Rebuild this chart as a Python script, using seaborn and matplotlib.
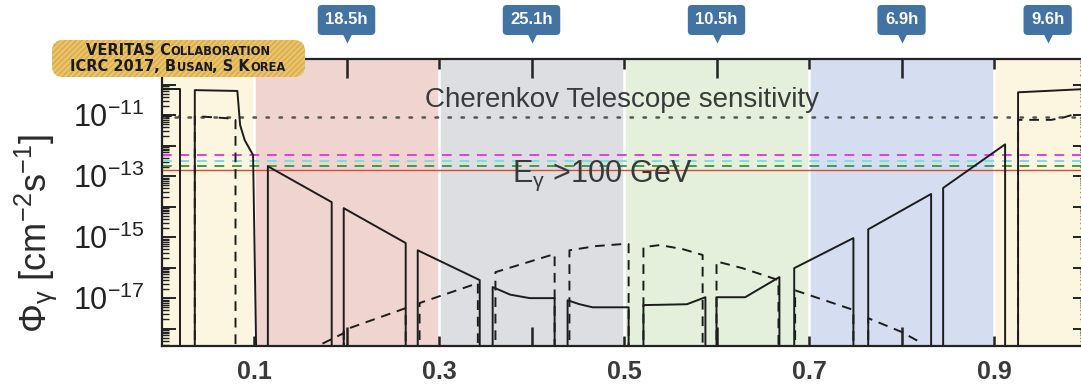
import numpy as np
import pandas as pd
import seaborn as sns
import matplotlib.pyplot as plt
from matplotlib.ticker import LogLocator, NullFormatter, FixedLocator
from matplotlib.transforms import blended_transform_factory, IdentityTransform
from matplotlib.patches import FancyBboxPatch
from matplotlib.offsetbox import TextArea, HPacker, VPacker, AnnotationBbox

sns.set_theme(style="white")
plt.rcParams["font.family"] = ["Liberation Sans", "DejaVu Sans"]
plt.rcParams["mathtext.fontset"] = "custom"
plt.rcParams["mathtext.rm"] = "Liberation Sans"
plt.rcParams["mathtext.it"] = "Liberation Sans:italic"
plt.rcParams["mathtext.bf"] = "Liberation Sans:bold"
plt.rcParams["hatch.color"] = "#D8AE4E"
plt.rcParams["hatch.linewidth"] = 1.2

FLOOR = 1e-20

# orbital phase bands
band_edges = [0.0, 0.1, 0.3, 0.5, 0.7, 0.9, 1.0]
band_colors = ["#FCF5E0", "#F0D4D0", "#DDDEE1", "#E4F0DB", "#D4DEF0", "#FCF5E0"]

# observation time per band
hours_x = [0.2, 0.4, 0.6, 0.8, 0.958]
hours_labels = ["18.5h", "25.1h", "10.5h", "6.9h", "9.6h"]

# sensitivity lines
sens_values = [9.0e-12, 5.1e-13, 3.2e-13, 2.1e-13, 1.6e-13]
sens_colors = ["#555555", "#E040E0", "#84D9E0", "#3E9E3E", "#D24A38"]

# flux model, solid curve (x = phase, y = flux)
solid_segments = [
    ([0.0, 0.020, 0.020], [7.0e-11, 7.0e-11, FLOOR]),
    ([0.036, 0.036, 0.082, 0.085, 0.090, 0.096, 0.099, 0.103],
     [FLOOR, 6.6e-11, 6.2e-11, 4.7e-12, 1.5e-12, 7.1e-13, 4.9e-13, FLOOR]),
    ([0.115, 0.115, 0.184, 0.184], [FLOOR, 2.1e-13, 1.4e-14, FLOOR]),
    ([0.197, 0.197, 0.264, 0.264], [FLOOR, 8.9e-15, 6.4e-16, FLOOR]),
    ([0.277, 0.277, 0.344, 0.344], [FLOOR, 3.7e-16, 3.9e-17, FLOOR]),
    ([0.358, 0.358, 0.377, 0.398, 0.425, 0.425],
     [FLOOR, 2.3e-17, 1.3e-17, 1.0e-17, 1.0e-17, FLOOR]),
    ([0.439, 0.439, 0.452, 0.466, 0.505, 0.505],
     [FLOOR, 8.5e-18, 6.3e-18, 5.0e-18, 5.0e-18, FLOOR]),
    ([0.521, 0.521, 0.568, 0.588, 0.588], [FLOOR, 5.9e-18, 6.3e-18, 1.07e-17, FLOOR]),
    ([0.600, 0.600, 0.631, 0.668, 0.668], [FLOOR, 1.07e-17, 1.07e-17, 4.9e-17, FLOOR]),
    ([0.684, 0.684, 0.748, 0.748], [FLOOR, 9.6e-17, 9.3e-16, FLOOR]),
    ([0.764, 0.764, 0.832, 0.832], [FLOOR, 1.8e-15, 2.6e-14, FLOOR]),
    ([0.845, 0.845, 0.912, 0.912], [FLOOR, 4.1e-14, 1.1e-12, FLOOR]),
    ([0.926, 0.926, 1.0], [FLOOR, 5.6e-11, 7.2e-11]),
]

# flux model, dashed curve
dashed_segments = [
    ([0.0, 0.020], [9.3e-12, 9.3e-12]),
    ([0.036, 0.036, 0.071, 0.077, 0.080, 0.080],
     [FLOOR, 9.3e-12, 7.9e-12, 6.9e-12, 6.9e-12, FLOOR]),
    ([0.160, 0.171, 0.197, 0.197], [1.5e-19, 2.9e-19, 7.1e-19, FLOOR]),
    ([0.197, 0.197, 0.264, 0.264], [FLOOR, 8.9e-19, 4.7e-18, FLOOR]),
    ([0.279, 0.279, 0.342, 0.342], [FLOOR, 6.9e-18, 3.1e-17, FLOOR]),
    ([0.361, 0.361, 0.425, 0.425], [FLOOR, 7.1e-17, 2.8e-16, FLOOR]),
    ([0.441, 0.441, 0.470, 0.498, 0.505, 0.505],
     [FLOOR, 3.7e-16, 5.1e-16, 5.9e-16, 5.9e-16, FLOOR]),
    ([0.521, 0.521, 0.539, 0.564, 0.585, 0.585],
     [FLOOR, 4.7e-16, 5.5e-16, 4.0e-16, 2.6e-16, FLOOR]),
    ([0.600, 0.600, 0.628, 0.667, 0.667], [FLOOR, 1.6e-16, 9.6e-17, 3.9e-17, FLOOR]),
    ([0.685, 0.685, 0.748, 0.748], [FLOOR, 1.8e-17, 4.1e-18, FLOOR]),
    ([0.764, 0.764, 0.800, 0.820], [FLOOR, 2.2e-18, 7.8e-19, 3.6e-19]),
    ([0.926, 0.926, 0.962, 0.976, 0.988], [FLOOR, 7.0e-12, 7.0e-12, 8.5e-12, 1.1e-11]),
]

rows = []
for kind, segs in [("solid", solid_segments), ("dashed", dashed_segments)]:
    for i, (xs, ys) in enumerate(segs):
        for x, y in zip(xs, ys):
            rows.append({"phase": x, "flux": y, "seg": f"{kind}{i}", "kind": kind})
df = pd.DataFrame(rows)

fig = plt.figure(figsize=(10.81, 3.90), dpi=100)
ax = fig.add_axes([0.1494, 0.1128, 0.8557, 0.7359])
ax.set_yscale("log")

for i in range(len(band_colors)):
    ax.axvspan(band_edges[i], band_edges[i + 1], color=band_colors[i], lw=0, zorder=0)
for e in band_edges[1:-1]:
    ax.axvline(e, color="white", lw=1.8, zorder=0.5)

ax.axhline(sens_values[0], color=sens_colors[0], lw=1.8, ls=(0, (1, 4.2)),
           dash_capstyle="round", zorder=1)
for v, c in zip(sens_values[1:4], sens_colors[1:4]):
    ax.axhline(v, color=c, lw=1.4, ls=(0, (5, 4)), zorder=1)
ax.axhline(sens_values[4], color=sens_colors[4], lw=1.0, zorder=1)

sns.lineplot(data=df, x="phase", y="flux", units="seg", style="kind",
             estimator=None, sort=False, color="#1c1c1c", lw=1.4,
             dashes={"solid": "", "dashed": (5, 3.5)}, legend=False,
             ax=ax, zorder=2)

ax.set_xlim(0, 1)
ax.set_ylim(10 ** -18.57, 10 ** -9.16)
ax.set_xlabel("")
ax.set_ylabel("")

# ticks
decades = [10.0 ** k for k in range(-18, -9)]
ylabels = [r"$\mathregular{10^{%d}}$" % k if k % 2 else "" for k in range(-18, -9)]
ax.set_yticks(decades, ylabels)
ax.yaxis.set_minor_locator(LogLocator(base=10, subs=np.arange(2, 10), numticks=50))
ax.yaxis.set_minor_formatter(NullFormatter())
ax.set_xticks([0.1, 0.3, 0.5, 0.7, 0.9], ["0.1", "0.3", "0.5", "0.7", "0.9"])
ax.xaxis.set_minor_locator(FixedLocator([0.2, 0.4, 0.6, 0.8]))
ax.tick_params(axis="y", which="major", direction="in", length=10, width=1.4,
               left=True, right=True, labelsize=22, pad=12, colors="#222222")
ax.tick_params(axis="y", which="minor", direction="in", length=5, width=1.0,
               left=True, right=True, colors="#222222")
ax.tick_params(axis="x", which="major", direction="in", length=7, width=1.8,
               top=True, bottom=True, labelsize=18, pad=10, colors="#222222")
ax.tick_params(axis="x", which="minor", direction="in", length=14, width=1.8,
               top=True, bottom=True, colors="#222222")
for lab in ax.get_xticklabels():
    lab.set_fontweight("bold")
    lab.set_color("#3a3a3a")
for sp in ax.spines.values():
    sp.set_color("#222222")
    sp.set_linewidth(1.6)

fig.text(0.033, 0.40, r"$\Phi_{\mathrm{\gamma}}\ [\mathrm{cm^{-2}s^{-1}}]$", rotation=90,
         ha="center", va="center", fontsize=26, color="#2a2a2a")

ax.text(0.285, 3.1e-11, "Cherenkov Telescope sensitivity", fontsize=20,
        color="#3a3a3a", va="center", ha="left", zorder=4)
ax.text(0.379, 6.3e-14, r"E$_{\mathrm{\gamma}}$ >100 GeV", fontsize=22, color="#3a3a3a",
        va="baseline", ha="left", zorder=4)

# observation-time callouts above the plot
trans = blended_transform_factory(ax.transData, ax.transAxes)
for hx, hl in zip(hours_x, hours_labels):
    ax.text(hx, 1.136, hl, transform=trans, ha="center", va="center",
            fontsize=12, fontweight="bold", color="white", clip_on=False,
            bbox=dict(boxstyle="round,pad=0.45,rounding_size=0.25",
                      fc="#4373A3", ec="none"))
    ax.plot([hx], [1.077], marker="v", ms=8, color="#4373A3", mec="none",
            transform=trans, clip_on=False)

# conference badge (pixel coordinates), small caps imitated with two font sizes
badge = FancyBboxPatch((52, 390 - 77), 253, 37,
                       boxstyle="round,pad=0,rounding_size=11",
                       transform=IdentityTransform(), fc="#EBC56B", ec="#D8AE4E",
                       lw=0, hatch="//////", zorder=10)
fig.add_artist(badge)


def caps_line(parts):
    boxes = []
    for txt, big in parts:
        boxes.append(TextArea(txt, textprops=dict(fontsize=10.5 if big else 8.3,
                                                   fontweight="bold",
                                                   family="DejaVu Sans",
                                                   color="#1a1a1a")))
    return HPacker(children=boxes, align="baseline", pad=0, sep=0)


line1 = caps_line([("VERITAS C", True), ("OLLABORATION", False)])
line2 = caps_line([("ICRC 2017, B", True), ("USAN", False), (", S K", True), ("OREA", False)])
stack = VPacker(children=[line1, line2], align="center", pad=0, sep=1)
ab = AnnotationBbox(stack, (178 / 1081, 1 - 58.5 / 390), xycoords="figure fraction",
                    frameon=False, box_alignment=(0.5, 0.5), zorder=11)
fig.add_artist(ab)

fig.savefig("out.png", dpi=100)
